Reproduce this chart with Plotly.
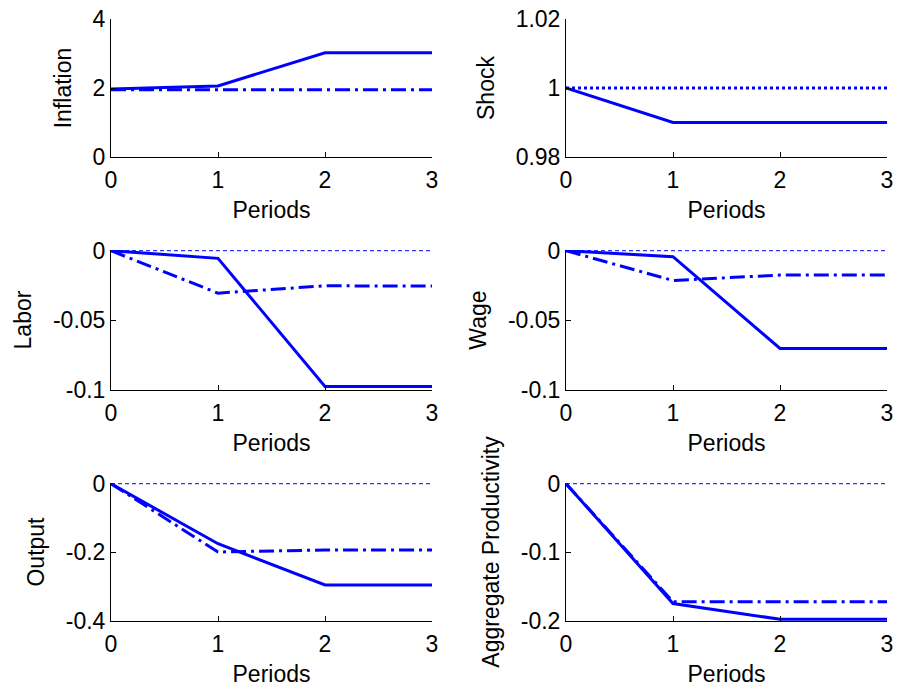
import plotly.graph_objects as go

periods = [0, 1, 2, 3]

inflation_solid = [1.97, 2.06, 3.02, 3.02]
inflation_dashdot = [1.95, 1.95, 1.95, 1.95]

shock_solid = [1.0, 0.99, 0.99, 0.99]
shock_dotted = [1.0, 1.0, 1.0, 1.0]

labor_solid = [0.0, -0.0055, -0.0975, -0.0975]
labor_dashdot = [0.0, -0.0305, -0.0252, -0.0254]

wage_solid = [0.0, -0.0043, -0.0702, -0.0702]
wage_dashdot = [0.0, -0.0214, -0.0175, -0.0175]

output_solid = [0.0, -0.175, -0.295, -0.295]
output_dashdot = [0.0, -0.199, -0.193, -0.193]

prod_solid = [0.0, -0.1745, -0.1975, -0.1975]
prod_dashdot = [0.0, -0.172, -0.172, -0.172]

steady_zero = [0.0, 0.0, 0.0, 0.0]

titles = ["Inflation", "Shock", "Labor", "Wage", "Output", "Aggregate Productivity"]
y_ranges = [[0, 4], [0.98, 1.02], [-0.1, 0], [-0.1, 0], [-0.4, 0], [-0.2, 0]]
y_tickvals = [[0, 2, 4], [0.98, 1, 1.02], [-0.1, -0.05, 0], [-0.1, -0.05, 0],
              [-0.4, -0.2, 0], [-0.2, -0.1, 0]]
y_ticktext = [["0", "2", "4"], ["0.98", "1", "1.02"], ["-0.1", "-0.05", "0"],
              ["-0.1", "-0.05", "0"], ["-0.4", "-0.2", "0"], ["-0.2", "-0.1", "0"]]
x_tickvals = [0, 1, 2, 3]
x_ticktext = ["0", "1", "2", "3"]

W, H = 900, 688
col_px = [(111, 432), (566, 887)]
row_px = [(19, 157), (250, 390), (483, 621)]

BLUE = "#0000FF"
FONT = "Liberation Sans, Arial, sans-serif"
FS = 23

fig = go.Figure()

panels = [
    (inflation_solid, inflation_dashdot, None, "dashdot"),
    (shock_solid, shock_dotted, None, "dot"),
    (labor_solid, labor_dashdot, steady_zero, "dashdot"),
    (wage_solid, wage_dashdot, steady_zero, "dashdot"),
    (output_solid, output_dashdot, steady_zero, "dashdot"),
    (prod_solid, prod_dashdot, steady_zero, "dashdot"),
]

DASHDOT = "15px,5px,3px,5px"

layout_axes = {}
for i, (solid, alt, ref, altstyle) in enumerate(panels):
    r, c = divmod(i, 2)
    n = "" if i == 0 else str(i + 1)
    xref, yref = "x" + n, "y" + n
    if ref is not None:
        fig.add_trace(go.Scatter(x=periods, y=ref, mode="lines", xaxis=xref, yaxis=yref,
                                 line=dict(color=BLUE, width=1, dash="4px,3px"),
                                 showlegend=False, hoverinfo="skip"))
    fig.add_trace(go.Scatter(x=periods, y=alt, mode="lines", xaxis=xref, yaxis=yref,
                             line=dict(color=BLUE, width=3,
                                       dash=DASHDOT if altstyle == "dashdot" else "3px,3px"),
                             showlegend=False))
    fig.add_trace(go.Scatter(x=periods, y=solid, mode="lines", xaxis=xref, yaxis=yref,
                             line=dict(color=BLUE, width=3), showlegend=False))
    x0, x1 = col_px[c]
    yt, yb = row_px[r]
    lo, hi = y_ranges[i]
    pad = (hi - lo) * 0.005
    layout_axes["xaxis" + n] = dict(
        domain=[x0 / W, x1 / W], anchor=yref, range=[0, 3], automargin=False,
        tickvals=x_tickvals, ticktext=x_ticktext, ticklabeloverflow="allow",
        showline=True, linecolor="black", linewidth=1, ticks="inside", ticklen=5,
        tickcolor="black", showgrid=False, zeroline=False, ticklabelstandoff=2,
        tickfont=dict(family=FONT, size=FS, color="black"),
        title=dict(text="Periods", font=dict(family=FONT, size=FS, color="black"), standoff=10),
    )
    layout_axes["yaxis" + n] = dict(
        domain=[1 - yb / H, 1 - yt / H], anchor=xref, automargin=False,
        range=[lo, hi + (pad if hi == 0 else 0)], ticklabeloverflow="allow",
        tickvals=y_tickvals[i], ticktext=y_ticktext[i],
        showline=True, linecolor="black", linewidth=1, ticks="inside", ticklen=5,
        tickcolor="black", showgrid=False, zeroline=False,
        tickfont=dict(family=FONT, size=FS, color="black"),
        title=dict(text=titles[i], font=dict(family=FONT, size=FS, color="black"), standoff=14),
    )

fig.update_layout(
    width=W, height=H,
    margin=dict(l=0, r=0, t=0, b=0),
    paper_bgcolor="white", plot_bgcolor="white",
    showlegend=False,
    **layout_axes,
)

fig.write_html("out.html", config={"displayModeBar": False},
               post_script="document.body.style.margin='0px';document.body.style.overflow='hidden';")
